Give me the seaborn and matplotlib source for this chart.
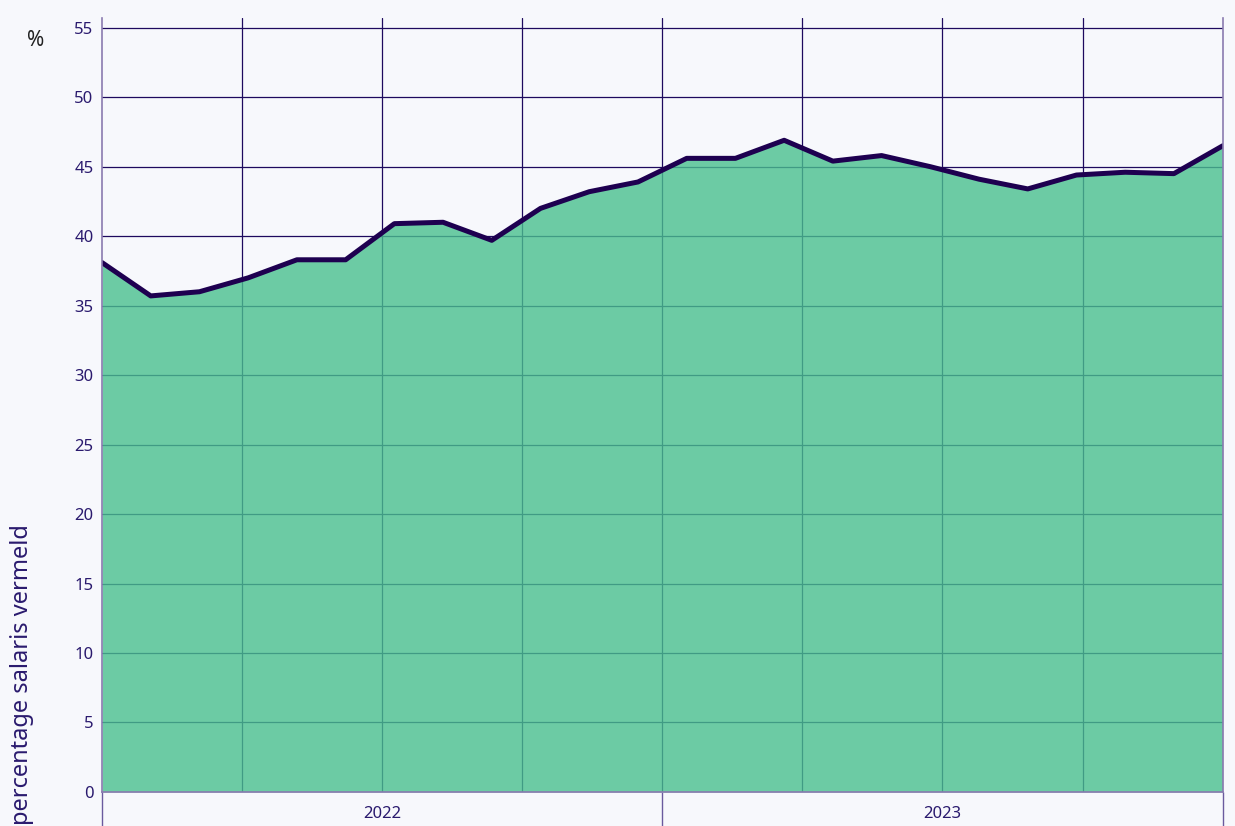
import numpy as np
import pandas as pd
import seaborn as sns
import matplotlib.pyplot as plt

# maandelijkse waarden, januari 2022 t/m december 2023
maanden = pd.date_range("2022-01-01", periods=24, freq="MS").strftime("%Y-%m").tolist()
percentage = [38.1, 35.7, 36.0, 37.0, 38.3, 38.3, 40.9, 41.0, 39.7, 42.0, 43.2, 43.9,
              45.6, 45.6, 46.9, 45.4, 45.8, 45.0, 44.1, 43.4, 44.4, 44.6, 44.5, 46.5]
jaren = ["2022", "2023"]
y_ticks = list(range(0, 60, 5))

df = pd.DataFrame({"maand": maanden, "pct": percentage})
df["idx"] = range(len(df))

bg = "#f7f8fc"
navy = "#1e0a5e"
sns.set_theme(style="white", rc={"axes.facecolor": bg, "figure.facecolor": bg})
plt.rcParams["font.family"] = ["Noto Sans", "DejaVu Sans"]

fig = plt.figure(figsize=(12.35, 8.26), dpi=100)
ax = fig.add_axes([0.0826, 0.0412, 0.9074, 0.937])

n = len(df) - 1
ax.set_xlim(0, n)
ax.set_ylim(0, 55.7)

# grid: kwartalen verticaal, elke 5% horizontaal
for xv in np.linspace(0, n, 9)[1:-1]:
    ax.axvline(xv, color=navy, lw=0.9, zorder=1)
for yv in y_ticks[1:]:
    ax.axhline(yv, color=navy, lw=0.9, zorder=1)

ax.fill_between(df["idx"], df["pct"], 0, color="#49c08e", alpha=0.8, lw=0, zorder=2)
sns.lineplot(data=df, x="idx", y="pct", color="#1e0050", lw=3.6, ax=ax, zorder=3)

ax.set_yticks(y_ticks)
ax.set_yticklabels([str(v) for v in y_ticks], fontsize=12, color="#2a1a6e")
ax.tick_params(axis="y", left=False, length=0, pad=6)

ax.set_xticks([0, n / 2, n])
ax.set_xticklabels([])
ax.tick_params(axis="x", bottom=True, length=25, width=1.0, color="#6a5a9e", direction="out")
for i, j in enumerate(jaren):
    ax.text(n * (0.25 + 0.5 * i), -1.55, j, ha="center", va="center",
            fontsize=12, color="#2a1a6e")

ax.set_xlabel("")
ax.set_ylabel("")
ax.spines["top"].set_visible(False)
for s in ["left", "bottom", "right"]:
    ax.spines[s].set_color("#8a7ab0")
    ax.spines[s].set_linewidth(1.2)
    ax.spines[s].set_zorder(4)

fig.text(0.0285, 0.951, "%", fontsize=15, color="#222222", ha="center", va="center")
fig.text(0.018, 0.366, "percentage salaris vermeld", rotation=90, ha="center", va="top",
         fontsize=17, color="#2a1a6e")

plt.savefig("out.png", dpi=100, facecolor=bg)
